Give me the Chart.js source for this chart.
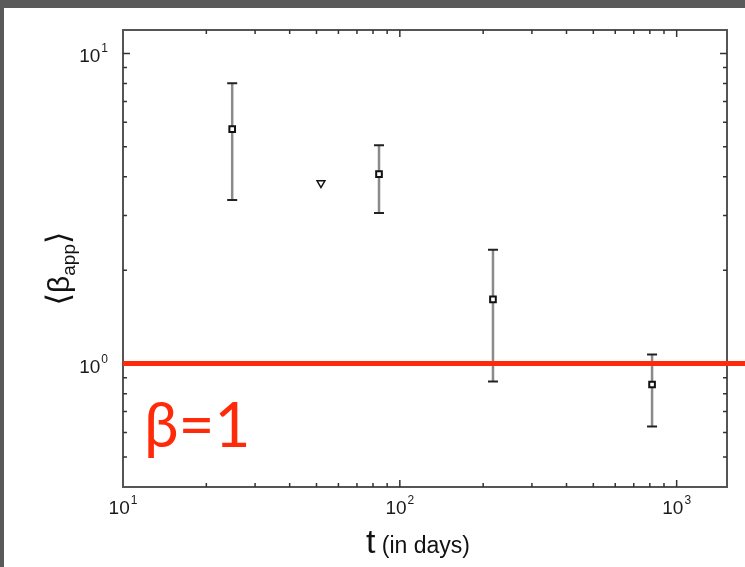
<!DOCTYPE html>
<html lang="en">
<head>
  <meta charset="UTF-8">
  <title>beta app vs t</title>
  <style>
    body { margin: 0; background: #5a5a5a; width: 745px; height: 567px; overflow: hidden; }
    .quadro { position: absolute; left: 4px; top: 8px; width: 741px; height: 559px; background: #fff; }
    canvas { display: block; }
  </style>
</head>
<body>
  <div class="quadro">
    <canvas id="grafico" width="741" height="559"></canvas>
  </div>
  <script src="https://cdn.jsdelivr.net/npm/chart.js"></script>
<script>
  // dados (escala log-log)
  var tempos = [24.8, 84.1, 217, 815];
  var betas = [5.70, 4.08, 1.61, 0.856];
  var betasMin = [3.37, 3.06, 0.875, 0.627];
  var betasMax = [8.01, 5.06, 2.33, 1.07];

  var temposTri = [51.9];
  var betasTri = [3.82];

  var linhaBeta = 1;

  // ticks principais: base e expoente
  var xPotencias = [10, 100, 1000];
  var xExpoentes = ['1', '2', '3'];
  var yPotencias = [1, 10];
  var yExpoentes = ['0', '1'];

  var xMin = 10, xMax = 1520;
  var yMin = 0.40, yMax = 11.9;

  var vermelho = '#ff2a0a';

  function ticksMenores(min, max) {
    var lista = [];
    for (var d = 0.1; d <= 10000; d *= 10) {
      for (var k = 2; k <= 9; k++) {
        var v = d * k;
        if (v > min && v < max) lista.push(v);
      }
    }
    return lista;
  }

  function textoPotencia(ctx, x, y, exp, alinhar) {
    ctx.font = '19px "Liberation Sans", Arial, sans-serif';
    var w1 = ctx.measureText('10').width;
    ctx.font = '12px "Liberation Sans", Arial, sans-serif';
    var w2 = ctx.measureText(exp).width;
    var x0 = alinhar == 'right' ? x - w1 - w2 - 1 : x - (w1 + w2 + 1) / 2;
    ctx.textAlign = 'left';
    ctx.textBaseline = 'alphabetic';
    ctx.font = '19px "Liberation Sans", Arial, sans-serif';
    ctx.fillText('10', x0, y);
    ctx.font = '12px "Liberation Sans", Arial, sans-serif';
    ctx.fillText(exp, x0 + w1 + 1, y - 10);
  }

  var eixosPlugin = {
    id: 'eixos',
    beforeDatasetsDraw: function (chart) {
      var ctx = chart.ctx;
      var a = chart.chartArea;
      var sx = chart.scales.x, sy = chart.scales.y;
      ctx.save();

      // caixa
      ctx.strokeStyle = '#555';
      ctx.lineWidth = 2;
      ctx.strokeRect(a.left, a.top, a.right - a.left, a.bottom - a.top);

      // ticks para dentro
      ctx.strokeStyle = '#333';
      ctx.lineWidth = 1.5;
      function tickX(v, len) {
        var px = sx.getPixelForValue(v);
        ctx.beginPath();
        ctx.moveTo(px, a.bottom); ctx.lineTo(px, a.bottom - len);
        ctx.moveTo(px, a.top); ctx.lineTo(px, a.top + len);
        ctx.stroke();
      }
      function tickY(v, len) {
        var py = sy.getPixelForValue(v);
        ctx.beginPath();
        ctx.moveTo(a.left, py); ctx.lineTo(a.left + len, py);
        ctx.moveTo(a.right, py); ctx.lineTo(a.right - len, py);
        ctx.stroke();
      }
      ticksMenores(xMin, xMax).forEach(function (v) { tickX(v, 4); });
      xPotencias.forEach(function (v) { if (v > xMin && v < xMax) tickX(v, 7); });
      ticksMenores(yMin, yMax).forEach(function (v) { tickY(v, 4); });
      yPotencias.forEach(function (v) { tickY(v, 7); });

      // rotulos dos ticks
      ctx.fillStyle = '#1a1a1a';
      xPotencias.forEach(function (v, i) {
        textoPotencia(ctx, sx.getPixelForValue(v), a.bottom + 27, xExpoentes[i], 'center');
      });
      yPotencias.forEach(function (v, i) {
        textoPotencia(ctx, a.left - 15, sy.getPixelForValue(v) + 9, yExpoentes[i], 'right');
      });

      // barras de erro
      for (var i = 0; i < tempos.length; i++) {
        var px = sx.getPixelForValue(tempos[i]);
        var pTopo = sy.getPixelForValue(betasMax[i]);
        var pBase = sy.getPixelForValue(betasMin[i]);
        ctx.strokeStyle = '#8a8a8a';
        ctx.lineWidth = 2.5;
        ctx.beginPath();
        ctx.moveTo(px, pTopo); ctx.lineTo(px, pBase);
        ctx.stroke();
        ctx.strokeStyle = '#222';
        ctx.lineWidth = 2;
        ctx.beginPath();
        ctx.moveTo(px - 5, pTopo); ctx.lineTo(px + 5, pTopo);
        ctx.moveTo(px - 5, pBase); ctx.lineTo(px + 5, pBase);
        ctx.stroke();
      }

      // titulos dos eixos
      ctx.fillStyle = '#111';
      ctx.textBaseline = 'alphabetic';
      ctx.textAlign = 'left';
      ctx.font = '34px "Liberation Sans", Arial, sans-serif';
      var wt = ctx.measureText('t').width;
      ctx.font = '23px "Liberation Sans", Arial, sans-serif';
      var wr = ctx.measureText(' (in days)').width;
      var xc = (a.left + a.right) / 2 - 7 - (wt + wr) / 2;
      ctx.font = '34px "Liberation Sans", Arial, sans-serif';
      ctx.fillText('t', xc, a.bottom + 66);
      ctx.font = '23px "Liberation Sans", Arial, sans-serif';
      ctx.fillText(' (in days)', xc + wt, a.bottom + 66);

      ctx.translate(57, (a.top + a.bottom) / 2 + 10);
      ctx.rotate(-Math.PI / 2);
      var partes = [
        ['⟨', '32px "DejaVu Sans", sans-serif', 0],
        ['β', '30px "Liberation Sans", Arial, sans-serif', 0],
        ['app', '19px "Liberation Sans", Arial, sans-serif', 6],
        ['⟩', '32px "DejaVu Sans", sans-serif', 0]
      ];
      var total = 0;
      partes.forEach(function (p) { ctx.font = p[1]; total += ctx.measureText(p[0]).width; });
      var cx = -total / 2;
      partes.forEach(function (p) {
        ctx.font = p[1];
        ctx.fillText(p[0], cx, 8 + p[2]);
        cx += ctx.measureText(p[0]).width;
      });
      ctx.restore();
    },
    afterDatasetsDraw: function (chart) {
      var ctx = chart.ctx;
      var a = chart.chartArea;
      var py = chart.scales.y.getPixelForValue(linhaBeta);
      ctx.save();
      ctx.strokeStyle = vermelho;
      ctx.lineWidth = 5;
      ctx.beginPath();
      ctx.moveTo(a.left, py);
      ctx.lineTo(chart.width, py);
      ctx.stroke();
      ctx.fillStyle = vermelho;
      ctx.font = '62px Lato, "Open Sans", sans-serif';
      ctx.textAlign = 'left';
      ctx.textBaseline = 'alphabetic';
      ctx.fillText('β=1', a.left + 21, py + 83);
      ctx.restore();
    }
  };

  var pontos = tempos.map(function (t, i) { return { x: t, y: betas[i] }; });
  var pontosTri = temposTri.map(function (t, i) { return { x: t, y: betasTri[i] }; });

  var config = {
    type: 'scatter',
    data: {
      datasets: [{
        label: 'beta',
        data: pontos,
        pointStyle: 'rect',
        radius: 4,
        borderColor: '#111',
        borderWidth: 2,
        backgroundColor: '#fff'
      }, {
        label: 'tri',
        data: pontosTri,
        pointStyle: 'triangle',
        rotation: 180,
        radius: 4.5,
        borderColor: '#111',
        borderWidth: 1.5,
        backgroundColor: '#fff'
      }]
    },
    options: {
      responsive: false,
      devicePixelRatio: 1,
      animation: false,
      layout: { padding: { top: 22, right: 18, left: 0, bottom: 0 } },
      plugins: { legend: { display: false }, tooltip: { enabled: false } },
      scales: {
        x: {
          type: 'logarithmic',
          min: xMin, max: xMax,
          grid: { display: false },
          border: { display: false },
          ticks: { display: false },
          afterFit: function (s) { s.height = 80; }
        },
        y: {
          type: 'logarithmic',
          min: yMin, max: yMax,
          grid: { display: false },
          border: { display: false },
          ticks: { display: false },
          afterFit: function (s) { s.width = 119; }
        }
      }
    },
    plugins: [eixosPlugin]
  };

  var myChart = new Chart(document.getElementById('grafico'), config);
</script>
</body>
</html>
